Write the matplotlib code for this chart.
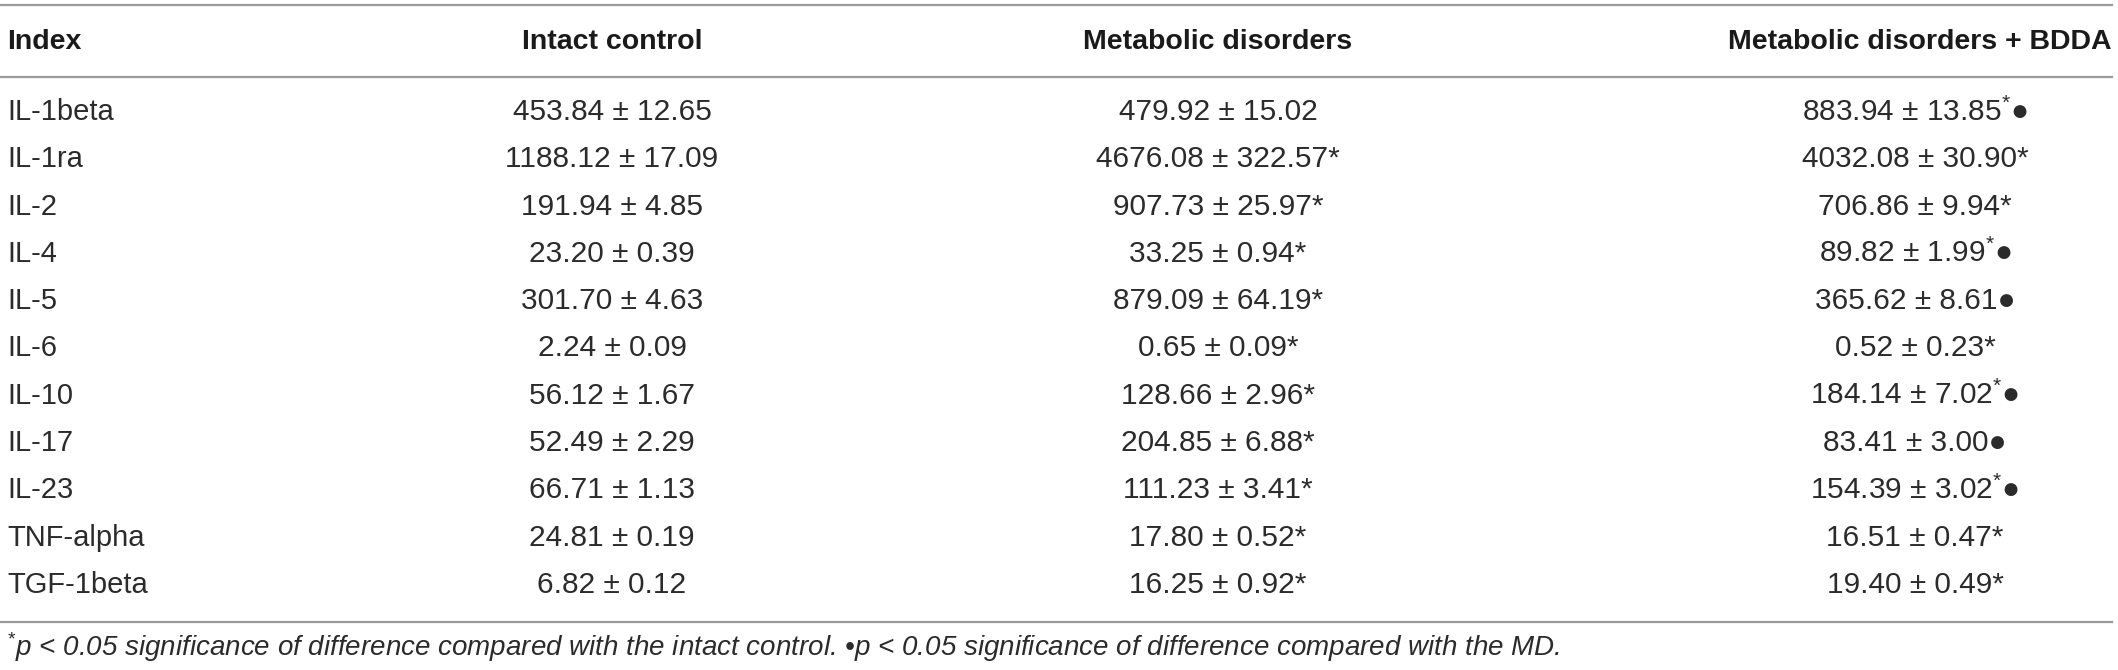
import matplotlib
matplotlib.use("Agg")
import matplotlib.pyplot as plt

plt.rcParams['font.family'] = ['Liberation Sans', 'DejaVu Sans']
plt.rcParams['mathtext.fontset'] = 'custom'
plt.rcParams['mathtext.rm'] = 'Liberation Sans'
plt.rcParams['mathtext.it'] = 'Liberation Sans:italic'

headers = ['Index', 'Intact control', 'Metabolic disorders', 'Metabolic disorders + BDDA']
indices = ['IL-1beta', 'IL-1ra', 'IL-2', 'IL-4', 'IL-5', 'IL-6', 'IL-10', 'IL-17',
           'IL-23', 'TNF-alpha', 'TGF-1beta']

control_mean = ['453.84', '1188.12', '191.94', '23.20', '301.70', '2.24', '56.12',
                '52.49', '66.71', '24.81', '6.82']
control_sd = ['12.65', '17.09', '4.85', '0.39', '4.63', '0.09', '1.67', '2.29', '1.13',
              '0.19', '0.12']

md_mean = ['479.92', '4676.08', '907.73', '33.25', '879.09', '0.65', '128.66', '204.85',
           '111.23', '17.80', '16.25']
md_sd = ['15.02', '322.57', '25.97', '0.94', '64.19', '0.09', '2.96', '6.88', '3.41',
         '0.52', '0.92']
md_mark = ['', '*', '*', '*', '*', '*', '*', '*', '*', '*', '*']

bdda_mean = ['883.94', '4032.08', '706.86', '89.82', '365.62', '0.52', '184.14', '83.41',
             '154.39', '16.51', '19.40']
bdda_sd = ['13.85', '30.90', '9.94', '1.99', '8.61', '0.23', '7.02', '3.00', '3.02',
           '0.47', '0.49']
# '*' = vs intact control, 'o' = vs MD
bdda_mark = ['*o', '*', '*', '*o', 'o', '*', '*o', 'o', '*o', '*', '*']

footnote = ('$^{*}$p < 0.05 significance of difference compared with the intact control. '
            '\u2022p < 0.05 significance of difference compared with the MD.')

DOT = '\u25cf'


def cell(mean, sd, mark=''):
    s = mean + ' \u00b1 ' + sd
    if mark == '*':
        s += '*'
    elif mark == '*o':
        s += '$^{*}$' + DOT
    elif mark == 'o':
        s += DOT
    return s


fig = plt.figure(figsize=(21.18, 6.70), dpi=100)
ax = fig.add_axes([0, 0, 1, 1])
ax.set_xlim(0, 2118)
row_h = 47.3
ax.set_ylim((670 - 112) / row_h, -112 / row_h)
ax.axis('off')

txt_color = '#2b2b2b'
head_color = '#1a1a1a'
line_color = '#9a9a9a'
fs = 21.5
hfs = 20.5

col_x = [7, 612, 1218, 1915]
header_y = -1.48

ax.text(col_x[0], header_y, headers[0], ha='left', va='center', fontsize=hfs,
        fontweight='bold', color=head_color)
ax.text(col_x[1], header_y, headers[1], ha='center', va='center', fontsize=hfs,
        fontweight='bold', color=head_color)
ax.text(col_x[2], header_y, headers[2], ha='center', va='center', fontsize=hfs,
        fontweight='bold', color=head_color)
ax.text(2112, header_y, headers[3], ha='right', va='center', fontsize=hfs,
        fontweight='bold', color=head_color)

for i, name in enumerate(indices):
    ax.text(col_x[0], i, name, ha='left', va='center', fontsize=fs - 0.5, color=txt_color)
    ax.text(col_x[1], i, cell(control_mean[i], control_sd[i]), ha='center',
            va='center', fontsize=fs, color=txt_color)
    ax.text(col_x[2], i, cell(md_mean[i], md_sd[i], md_mark[i]), ha='center',
            va='center', fontsize=fs, color=txt_color)
    ax.text(col_x[3], i, cell(bdda_mean[i], bdda_sd[i], bdda_mark[i]), ha='center',
            va='center', fontsize=fs, color=txt_color)

xmax = 2112 / 2118
for yl in [-107 / row_h, -0.74, 10.78]:
    ax.axhline(yl, xmin=0, xmax=xmax, color=line_color, linewidth=1.6)

ax.text(col_x[0], 11.31, footnote, ha='left', va='center', fontsize=20,
        style='italic', color=txt_color)

fig.savefig('out.png', dpi=100)
